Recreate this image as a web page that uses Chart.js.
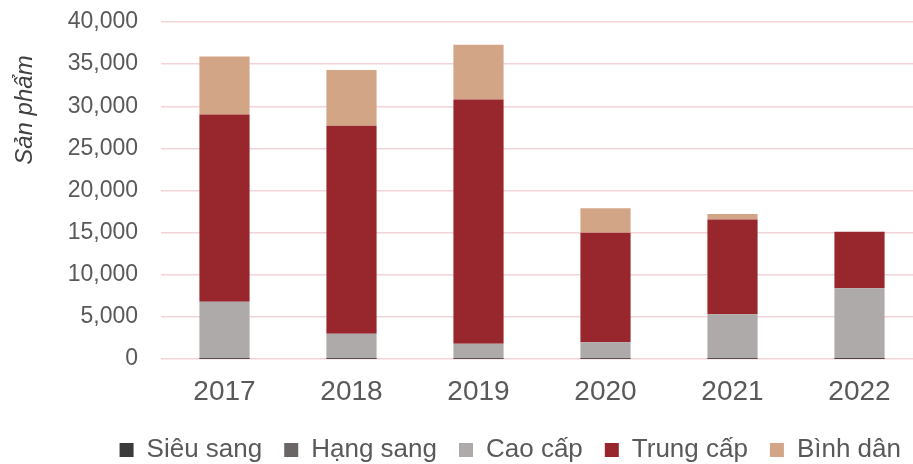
<!DOCTYPE html>
<html>
<head>
<meta charset="utf-8">
<script src="https://cdn.jsdelivr.net/npm/chart.js@4/dist/chart.umd.min.js"></script>
<style>
  html, body { margin: 0; padding: 0; background: #fff; overflow: hidden; }
  #wrap { width: 923px; height: 464px; }
</style>
</head>
<body>
<div id="wrap"><canvas id="myChart"></canvas></div>
<script>
// Chart data
const years = ['2017', '2018', '2019', '2020', '2021', '2022'];
const sieuSang = [10, 10, 5, 5, 10, 10];
const hangSang = [50, 40, 30, 30, 60, 120];
const caoCap = [6750, 2950, 1770, 1960, 5230, 8270];
const trungCap = [22200, 24700, 29000, 13000, 11250, 6700];
const binhDan = [6900, 6600, 6500, 2900, 650, 0];
const yTicks = [0, 5000, 10000, 15000, 20000, 25000, 30000, 35000, 40000];

const font = "'Liberation Sans', Arial, sans-serif";
const grey = '#595959';

document.addEventListener('DOMContentLoaded', () => {
    const ctx = document.getElementById('myChart').getContext('2d');
    new Chart(ctx, {
        type: 'bar',
        data: {
            labels: years,
            datasets: [
                { label: 'Siêu sang', data: sieuSang, backgroundColor: '#3b3b3b' },
                { label: 'Hạng sang', data: hangSang, backgroundColor: '#6b6666' },
                { label: 'Cao cấp', data: caoCap, backgroundColor: '#aeaaaa' },
                { label: 'Trung cấp', data: trungCap, backgroundColor: '#97272c' },
                { label: 'Bình dân', data: binhDan, backgroundColor: '#d3a587' }
            ]
        },
        options: {
            responsive: true,
            maintainAspectRatio: false,
            animation: false,
            barPercentage: 0.395,
            categoryPercentage: 1,
            layout: { padding: { top: 22, left: 0, right: 0, bottom: -9 } },
            plugins: {
                tooltip: { enabled: false },
                legend: {
                    position: 'bottom',
                    align: 'end',
                    labels: {
                        boxWidth: 14,
                        boxHeight: 14,
                        padding: 22,
                        color: grey,
                        font: { family: font, size: 26 }
                    }
                }
            },
            scales: {
                x: {
                    stacked: true,
                    grid: { display: false, drawTicks: false },
                    border: { display: false },
                    ticks: { color: grey, padding: 16, font: { family: font, size: 28 } },
                    afterFit: (scale) => { scale.height = 56; }
                },
                y: {
                    stacked: true,
                    min: 0,
                    max: 40000,
                    afterBuildTicks: (axis) => {
                        axis.ticks = yTicks.map(v => ({ value: v }));
                    },
                    afterFit: (scale) => {
                        scale.width = 161;
                        scale.paddingTop = 0;
                        scale.paddingBottom = 0;
                    },
                    grid: { color: '#f3d4d8', lineWidth: 1.5, drawTicks: false },
                    border: { display: false },
                    ticks: {
                        color: grey,
                        padding: 23,
                        font: { family: font, size: 23 },
                        callback: (v) => v.toLocaleString('en-US')
                    },
                    title: {
                        display: true,
                        text: 'Sản phẩm     ',
                        align: 'end',
                        color: '#404040',
                        padding: { top: 11, bottom: 10 },
                        font: { family: font, size: 24, style: 'italic' }
                    }
                }
            }
        }
    });
});
</script>
</body>
</html>
